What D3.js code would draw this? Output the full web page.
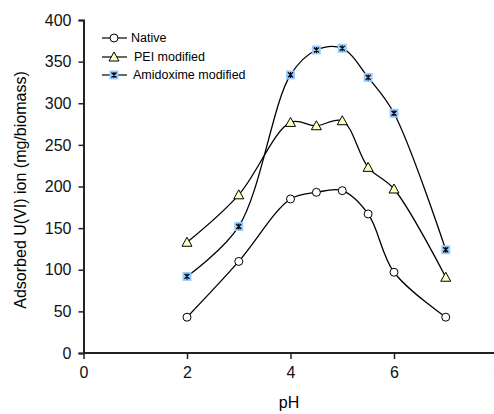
<!DOCTYPE html>
<html><head><meta charset="utf-8">
<script src="https://cdn.jsdelivr.net/npm/d3@7"></script>
<style>body{margin:0;background:#fff}svg{display:block;font-family:Arial,"Liberation Sans",sans-serif}</style>
</head><body><svg id="c" width="494" height="414"></svg>
<script>
const ph = [2, 3, 4, 4.5, 5, 5.5, 6, 7];
const native = [43, 110, 185, 193, 195, 167, 97, 43];
const pei = [133, 190, 277, 273, 279, 223, 197, 91];
const amidoxime = [92, 152, 334, 364, 366, 331, 288, 124];
const seriesNames = ["Native", "PEI modified", "Amidoxime modified"];
const xTicks = [0, 2, 4, 6, 8];
const yTicks = [0, 50, 100, 150, 200, 250, 300, 350, 400];

const svg = d3.select("#c");
const x = d3.scaleLinear().domain([0, 8]).range([83.5, 497.5]);
const y = d3.scaleLinear().domain([0, 400]).range([353, 20]);

// axes
const xa = svg.append("g").attr("transform", "translate(0,353)")
  .call(d3.axisBottom(x).tickValues(xTicks).tickSize(6).tickPadding(8));
const ya = svg.append("g").attr("transform", "translate(83.5,0)")
  .call(d3.axisLeft(y).tickValues(yTicks).tickSize(5).tickPadding(7));
[xa, ya].forEach(a => {
  a.select(".domain").attr("stroke", "#222").attr("stroke-width", 2);
  a.selectAll(".tick line").attr("stroke", "#222").attr("stroke-width", 1.5);
  a.selectAll("text").attr("font-size", 16).attr("fill", "#111").attr("font-family", "Arial, 'Liberation Sans', sans-serif");
});
xa.select(".domain").attr("d", "M83.5,0H494");

svg.append("text").attr("x", 289).attr("y", 408).attr("text-anchor", "middle")
  .attr("font-size", 16).text("pH");
svg.append("text").attr("transform", "translate(26,190) rotate(-90)").attr("text-anchor", "middle")
  .attr("font-size", 16).text("Adsorbed U(VI) ion (mg/biomass)");

const line = d3.line().x(d => x(d[0])).y(d => y(d[1])).curve(d3.curveCatmullRom.alpha(0.5));
const data = [native, pei, amidoxime].map(v => ph.map((p, i) => [p, v[i]]));

data.forEach(d => {
  svg.append("path").attr("d", line(d)).attr("fill", "none").attr("stroke", "#000").attr("stroke-width", 1.3);
});

function marker(g, type, cx, cy) {
  if (type === 0) {
    g.append("circle").attr("cx", cx).attr("cy", cy).attr("r", 4).attr("fill", "#fff").attr("stroke", "#000").attr("stroke-width", 1);
  } else if (type === 1) {
    g.append("path").attr("d", `M${cx},${cy-5}L${cx+5},${cy+4}L${cx-5},${cy+4}Z`)
      .attr("fill", "#ffffc0").attr("stroke", "#000").attr("stroke-width", 1);
  } else {
    g.append("rect").attr("x", cx-4.5).attr("y", cy-4.5).attr("width", 9).attr("height", 9).attr("fill", "#99ccff");
    g.append("path").attr("d", `M${cx-2.5},${cy-2.5}L${cx+2.5},${cy+2.5}M${cx+2.5},${cy-2.5}L${cx-2.5},${cy+2.5}M${cx},${cy-3}V${cy+3}`)
      .attr("stroke", "#000").attr("stroke-width", 1.2);
  }
}
data.forEach((d, k) => {
  const g = svg.append("g");
  d.forEach(p => marker(g, k, x(p[0]), y(p[1])));
});

// legend
const ly = [38, 57, 75];
const lt = [131, 134, 133];
seriesNames.forEach((n, k) => {
  const g = svg.append("g");
  g.append("line").attr("x1", 102).attr("x2", 127).attr("y1", ly[k]).attr("y2", ly[k]).attr("stroke", "#000").attr("stroke-width", 1.2);
  marker(g, k, 114, ly[k]);
  g.append("text").attr("x", lt[k]).attr("y", ly[k] + 4).attr("font-size", 12.5).text(n);
});
</script></body></html>
